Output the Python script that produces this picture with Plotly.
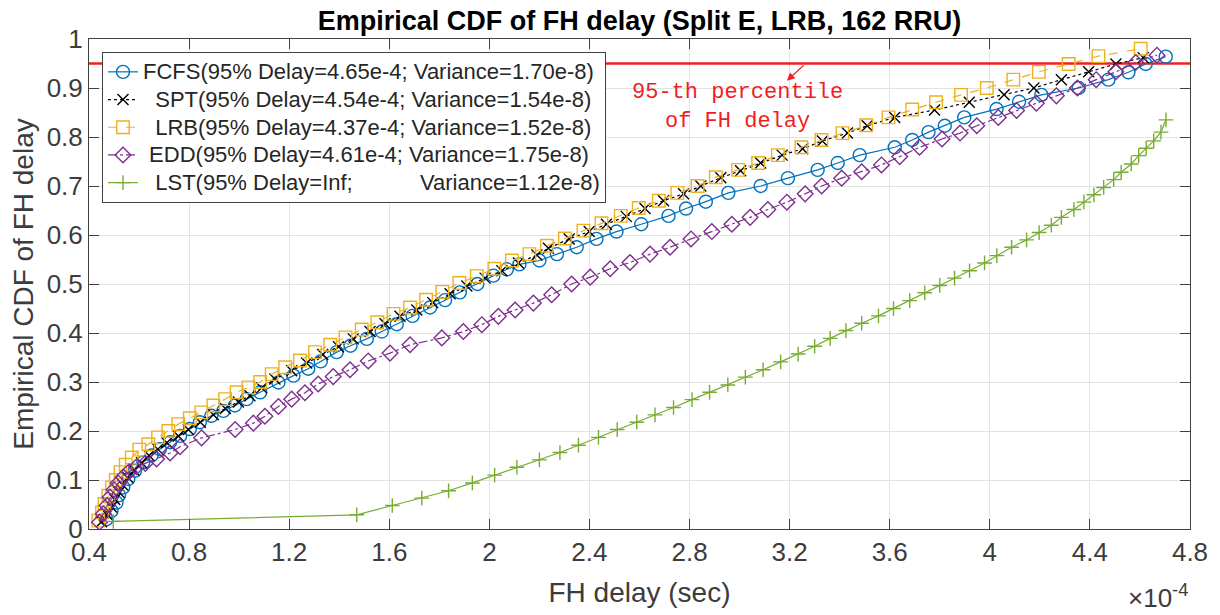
import plotly.graph_objects as go

# x values in units of 1e-4 s, y = empirical CDF
fcfs_x = [0.47, 0.49, 0.51, 0.52, 0.537, 0.557, 0.584, 0.617, 0.65, 0.683, 0.724, 0.764, 0.803, 0.843,
          0.889, 0.937, 0.983, 1.03, 1.084, 1.157, 1.217, 1.276, 1.326, 1.39, 1.445, 1.51, 1.57, 1.63,
          1.693, 1.763, 1.823, 1.882, 1.952, 2.016, 2.07, 2.12, 2.2, 2.27, 2.349, 2.428, 2.508, 2.607,
          2.716, 2.786, 2.865, 2.955, 3.084, 3.193, 3.312, 3.392, 3.48, 3.62, 3.69, 3.755, 3.82, 3.898,
          4.027, 4.117, 4.206, 4.355, 4.474, 4.554, 4.623, 4.703]
fcfs_y = [0.02, 0.037, 0.054, 0.069, 0.085, 0.102, 0.119, 0.136, 0.15, 0.163, 0.177, 0.19, 0.204, 0.218,
          0.231, 0.241, 0.252, 0.265, 0.279, 0.299, 0.313, 0.327, 0.342, 0.361, 0.374, 0.388, 0.403, 0.418,
          0.435, 0.452, 0.467, 0.483, 0.5, 0.517, 0.53, 0.54, 0.548, 0.561, 0.575, 0.592, 0.607, 0.622,
          0.639, 0.654, 0.668, 0.686, 0.7, 0.716, 0.733, 0.747, 0.763, 0.779, 0.794, 0.81, 0.823, 0.84,
          0.857, 0.872, 0.886, 0.9, 0.917, 0.932, 0.949, 0.964]

spt_x = [0.45, 0.471, 0.49, 0.503, 0.52, 0.535, 0.555, 0.58, 0.61, 0.64, 0.675, 0.711, 0.757, 0.797,
         0.845, 0.897, 0.945, 0.997, 1.043, 1.09, 1.143, 1.21, 1.27, 1.334, 1.397, 1.456, 1.523, 1.583,
         1.643, 1.71, 1.774, 1.843, 1.91, 1.983, 2.05, 2.116, 2.19, 2.236, 2.319, 2.399, 2.468, 2.547,
         2.622, 2.696, 2.776, 2.845, 2.925, 3.004, 3.084, 3.17, 3.252, 3.331, 3.431, 3.51, 3.62, 3.779,
         3.918, 4.057, 4.176, 4.286, 4.395, 4.504, 4.613]
spt_y = [0.015, 0.03, 0.045, 0.06, 0.075, 0.09, 0.105, 0.12, 0.135, 0.15, 0.163, 0.176, 0.19, 0.203,
         0.218, 0.233, 0.246, 0.259, 0.272, 0.288, 0.306, 0.323, 0.339, 0.356, 0.372, 0.388, 0.403, 0.419,
         0.434, 0.447, 0.462, 0.48, 0.496, 0.512, 0.527, 0.543, 0.559, 0.573, 0.592, 0.607, 0.622, 0.638,
         0.654, 0.67, 0.684, 0.7, 0.717, 0.731, 0.747, 0.763, 0.776, 0.792, 0.808, 0.823, 0.84, 0.855,
         0.871, 0.886, 0.9, 0.917, 0.933, 0.949, 0.962]

lrb_x = [0.437, 0.452, 0.462, 0.477, 0.492, 0.507, 0.526, 0.547, 0.571, 0.601, 0.637, 0.676, 0.717, 0.757,
         0.803, 0.849, 0.897, 0.944, 0.99, 1.037, 1.084, 1.13, 1.184, 1.243, 1.303, 1.364, 1.425, 1.49,
         1.552, 1.617, 1.683, 1.747, 1.812, 1.88, 1.95, 2.02, 2.09, 2.16, 2.23, 2.302, 2.376, 2.448,
         2.525, 2.597, 2.677, 2.751, 2.832, 2.905, 2.994, 3.074, 3.153, 3.247, 3.327, 3.411, 3.506, 3.595,
         3.69, 3.785, 3.885, 3.988, 4.094, 4.196, 4.315, 4.434, 4.603]
lrb_y = [0.017, 0.034, 0.051, 0.068, 0.085, 0.1, 0.116, 0.131, 0.146, 0.162, 0.173, 0.187, 0.2, 0.214,
         0.226, 0.238, 0.252, 0.265, 0.279, 0.289, 0.3, 0.316, 0.33, 0.344, 0.361, 0.376, 0.391, 0.407,
         0.422, 0.439, 0.452, 0.468, 0.484, 0.502, 0.516, 0.531, 0.548, 0.561, 0.578, 0.593, 0.609, 0.624,
         0.639, 0.655, 0.67, 0.686, 0.7, 0.718, 0.733, 0.747, 0.763, 0.779, 0.794, 0.808, 0.824, 0.84,
         0.856, 0.871, 0.886, 0.9, 0.917, 0.933, 0.949, 0.965, 0.98]

edd_x = [0.442, 0.457, 0.472, 0.484, 0.5, 0.517, 0.537, 0.56, 0.59, 0.625, 0.67, 0.724, 0.764, 0.85,
         0.984, 1.057, 1.103, 1.157, 1.21, 1.263, 1.316, 1.376, 1.443, 1.516, 1.603, 1.683, 1.81, 1.896,
         1.97, 2.036, 2.103, 2.176, 2.249, 2.329, 2.403, 2.483, 2.562, 2.642, 2.722, 2.806, 2.889, 2.969,
         3.042, 3.113, 3.189, 3.262, 3.328, 3.408, 3.488, 3.567, 3.64, 3.719, 3.809, 3.881, 3.948, 4.034,
         4.107, 4.186, 4.266, 4.35, 4.425, 4.504, 4.583, 4.668]
edd_y = [0.014, 0.031, 0.048, 0.065, 0.08, 0.094, 0.106, 0.117, 0.127, 0.134, 0.143, 0.155, 0.168, 0.186,
         0.203, 0.216, 0.23, 0.25, 0.265, 0.278, 0.296, 0.311, 0.325, 0.343, 0.359, 0.376, 0.39, 0.403,
         0.417, 0.434, 0.447, 0.461, 0.478, 0.5, 0.514, 0.531, 0.544, 0.561, 0.575, 0.592, 0.607, 0.622,
         0.636, 0.652, 0.667, 0.684, 0.7, 0.716, 0.729, 0.743, 0.76, 0.779, 0.796, 0.808, 0.823, 0.84,
         0.854, 0.869, 0.884, 0.9, 0.917, 0.933, 0.952, 0.967]

lst_x = [0.497, 1.47, 1.612, 1.73, 1.837, 1.932, 2.021, 2.11, 2.2, 2.282, 2.356, 2.436, 2.511, 2.589,
         2.662, 2.736, 2.81, 2.88, 2.953, 3.023, 3.094, 3.164, 3.234, 3.3, 3.362, 3.425, 3.488, 3.555,
         3.615, 3.68, 3.74, 3.8, 3.859, 3.919, 3.979, 4.028, 4.087, 4.147, 4.197, 4.246, 4.286, 4.336,
         4.376, 4.416, 4.455, 4.495, 4.525, 4.565, 4.595, 4.625, 4.655, 4.684, 4.704]
lst_y = [0.0155, 0.029, 0.048, 0.063, 0.078, 0.094, 0.11, 0.126, 0.141, 0.156, 0.171, 0.187, 0.203, 0.218,
         0.233, 0.248, 0.264, 0.279, 0.294, 0.31, 0.325, 0.341, 0.357, 0.373, 0.389, 0.405, 0.42, 0.435,
         0.45, 0.466, 0.482, 0.497, 0.512, 0.527, 0.543, 0.558, 0.575, 0.59, 0.605, 0.62, 0.636, 0.652,
         0.667, 0.682, 0.697, 0.713, 0.728, 0.745, 0.762, 0.777, 0.792, 0.81, 0.835]

series_names = [
    "FCFS(95% Delay=4.65e-4; Variance=1.70e-8)",
    "\u00a0\u00a0SPT(95% Delay=4.54e-4; Variance=1.54e-8)",
    "\u00a0\u00a0LRB(95% Delay=4.37e-4; Variance=1.52e-8)",
    "\u00a0EDD(95% Delay=4.61e-4; Variance=1.75e-8)",
    "\u00a0\u00a0LST(95% Delay=Inf;" + "\u00a0" * 11 + "Variance=1.12e-8)",
]

percentile_level = 0.95
x_range = [0.4, 4.8]
x_ticks = [0.4, 0.8, 1.2, 1.6, 2.0, 2.4, 2.8, 3.2, 3.6, 4.0, 4.4, 4.8]
x_tick_text = ["0.4", "0.8", "1.2", "1.6", "2", "2.4", "2.8", "3.2", "3.6", "4", "4.4", "4.8"]
y_ticks = [0, 0.1, 0.2, 0.3, 0.4, 0.5, 0.6, 0.7, 0.8, 0.9, 1.0]
y_tick_text = ["0", "0.1", "0.2", "0.3", "0.4", "0.5", "0.6", "0.7", "0.8", "0.9", "1"]

FONT = "Liberation Sans, Arial, Helvetica, sans-serif"
TXT = "#3c3c3c"
RED = "rgb(240,30,35)"

fig = go.Figure()

# 95-th percentile reference line
fig.add_trace(go.Scatter(x=x_range, y=[percentile_level, percentile_level], mode="lines",
                         line=dict(color=RED, width=2.6), showlegend=False, hoverinfo="skip"))

styles = [
    (fcfs_x, fcfs_y, "#0072BD", "solid", "circle-open", 13),
    (spt_x, spt_y, "#000000", "dot", "x-thin-open", 11),
    (lrb_x, lrb_y, "#EDB120", "dash", "square-open", 12.5),
    (edd_x, edd_y, "#7E2F8E", "dashdot", "diamond-open", 12),
    (lst_x, lst_y, "#77AC30", "solid", "cross-thin-open", 10.5),
]
for (xs, ys, col, dash, sym, sz), name in zip(styles, series_names):
    fig.add_trace(go.Scatter(
        x=xs, y=ys, mode="lines+markers",
        name='<span style="font-size:22px">' + name + '</span>',
        line=dict(color=col, width=1.2, dash=dash),
        marker=dict(symbol=sym, size=sz, color=col, line=dict(color=col, width=1.4)),
    ))

fig.add_annotation(x=3.189, y=0.915, ax=3.262, ay=0.949, xref="x", yref="y", axref="x", ayref="y",
                   text="", showarrow=True, arrowhead=2, arrowsize=1.2, arrowwidth=1.3, arrowcolor=RED)
fig.add_annotation(x=2.99, y=0.862, xref="x", yref="y", showarrow=False,
                   text="95-th percentile<br>of FH delay",
                   font=dict(family="Liberation Mono, Courier New, monospace", size=22, color=RED))
fig.add_annotation(x=1.0, y=-0.138, xref="paper", yref="paper", xanchor="right", yanchor="middle",
                   showarrow=False, text="\u00d710<sup>-4</sup>",
                   font=dict(family=FONT, size=26, color=TXT))

axis_common = dict(showgrid=True, gridcolor="#e3e3e3", gridwidth=1, showline=True, linecolor="#404040",
                   linewidth=1, mirror="ticks", ticks="inside", ticklen=10, tickcolor="#404040",
                   tickfont=dict(family=FONT, size=26, color=TXT), zeroline=False, automargin=False)

# the page body adds an 8px offset; the figure is sized to fill the rest of the 1220x615 window
fig.update_layout(
    width=1212, height=607,
    margin=dict(l=81, r=30, t=31, b=86),
    paper_bgcolor="white", plot_bgcolor="white",
    title=dict(text="<b>Empirical CDF of FH delay (Split E, LRB, 162 RRU)</b>", x=0.5, xref="paper",
               y=0.979, yref="container", yanchor="middle",
               font=dict(family=FONT, size=27, color="#000000")),
    xaxis=dict(range=x_range, tickvals=x_ticks, ticktext=x_tick_text,
               title=dict(text="FH delay (sec)", font=dict(family=FONT, size=28, color=TXT), standoff=16),
               **axis_common),
    yaxis=dict(range=[0, 1], tickvals=y_ticks, ticktext=y_tick_text,
               title=dict(text="Empirical CDF of FH delay", font=dict(family=FONT, size=28, color=TXT), standoff=4),
               **axis_common),
    legend=dict(x=0.0118, y=0.9735, xanchor="left", yanchor="top", bgcolor="white",
                bordercolor="#404040", borderwidth=1, font=dict(family=FONT, size=19, color="#262626"),
                itemwidth=30, tracegroupgap=0),
    showlegend=True,
)

fig.write_html("out.html")
